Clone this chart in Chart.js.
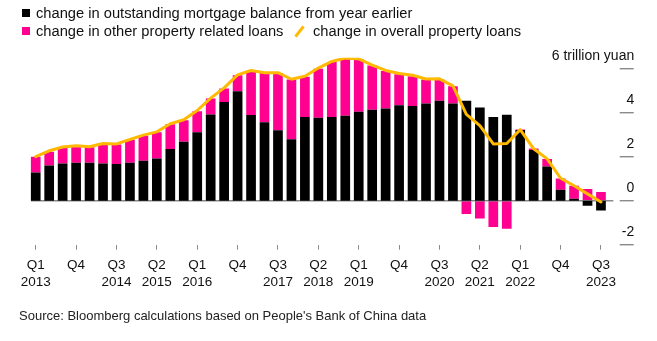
<!DOCTYPE html>
<html>
<head>
<meta charset="utf-8">
<script src="https://cdn.jsdelivr.net/npm/chart.js@4.4.1/dist/chart.umd.min.js"></script>
<style>
  html, body { margin: 0; padding: 0; background: #fff; }
  #wrap { position: relative; width: 657px; height: 341px; font-family: "Liberation Sans", Arial, sans-serif; color: #111; }
  #myChart { position: absolute; left: 0; top: 0; }
  .key { position: absolute; font-size: 14.7px; line-height: 16px; white-space: nowrap; }
  .sw { position: absolute; width: 8px; height: 8px; }
  .slash { position: absolute; width: 3px; height: 13px; background: #ffb900; transform: rotate(38deg); }
  #source { position: absolute; left: 19px; top: 308px; font-size: 13px; line-height: 16px; color: #222; white-space: nowrap; }
</style>
</head>
<body>
<div id="wrap">
  <canvas id="myChart" width="657" height="341"></canvas>
  <div class="sw" style="left:22px;top:9px;background:#000"></div>
  <div class="key" style="left:36px;top:5px">change in outstanding mortgage balance from year earlier</div>
  <div class="sw" style="left:22px;top:27px;background:#ff0090"></div>
  <div class="key" style="left:36px;top:23px">change in other property related loans</div>
  <div class="slash" style="left:298px;top:25px"></div>
  <div class="key" style="left:313px;top:23px">change in overall property loans</div>
  <div id="source">Source: Bloomberg calculations based on People's Bank of China data</div>
</div>
<script>
// quarters Q1 2013 .. Q3 2023
var quarters = [
  'Q1 2013','Q2 2013','Q3 2013','Q4 2013','Q1 2014','Q2 2014','Q3 2014','Q4 2014',
  'Q1 2015','Q2 2015','Q3 2015','Q4 2015','Q1 2016','Q2 2016','Q3 2016','Q4 2016',
  'Q1 2017','Q2 2017','Q3 2017','Q4 2017','Q1 2018','Q2 2018','Q3 2018','Q4 2018',
  'Q1 2019','Q2 2019','Q3 2019','Q4 2019','Q1 2020','Q2 2020','Q3 2020','Q4 2020',
  'Q1 2021','Q2 2021','Q3 2021','Q4 2021','Q1 2022','Q2 2022','Q3 2022','Q4 2022',
  'Q1 2023','Q2 2023','Q3 2023'
];

// x labels, one every three quarters
var tickLabels = [
  ['Q1','2013'], ['Q4'], ['Q3','2014'], ['Q2','2015'], ['Q1','2016'], ['Q4'],
  ['Q3','2017'], ['Q2','2018'], ['Q1','2019'], ['Q4'], ['Q3','2020'],
  ['Q2','2021'], ['Q1','2022'], ['Q4'], ['Q3','2023']
];

// trillion yuan, year-on-year change
var mortgage = [
  1.28, 1.60, 1.69, 1.72, 1.73, 1.69, 1.67, 1.73, 1.82, 1.92, 2.35, 2.68,
  3.11, 3.92, 4.49, 4.98, 3.89, 3.57, 3.20, 2.79, 3.81, 3.77, 3.80, 3.86,
  4.04, 4.13, 4.19, 4.34, 4.30, 4.42, 4.54, 4.42, 4.54, 4.24, 3.80, 3.91,
  3.21, 2.31, 1.55, 0.50, 0.09, -0.23, -0.45
];
var otherLoans = [
  0.72, 0.63, 0.72, 0.74, 0.70, 0.87, 0.89, 1.03, 1.14, 1.19, 1.13, 0.98,
  0.96, 0.73, 0.61, 0.72, 2.01, 2.24, 2.61, 2.72, 1.82, 2.23, 2.51, 2.59,
  2.39, 2.02, 1.71, 1.41, 1.36, 1.09, 0.97, 0.78, -0.60, -0.81, -1.19, -1.27,
  0.03, 0.06, 0.35, 0.51, 0.59, 0.53, 0.39
];
var overall = [
  2.00, 2.27, 2.44, 2.50, 2.45, 2.60, 2.58, 2.78, 2.98, 3.13, 3.50, 3.68,
  4.10, 4.66, 5.13, 5.72, 5.92, 5.82, 5.82, 5.52, 5.66, 6.03, 6.33, 6.48,
  6.45, 6.16, 5.92, 5.78, 5.70, 5.53, 5.54, 5.22, 3.92, 3.41, 2.58, 2.60,
  3.23, 2.36, 1.90, 1.02, 0.68, 0.31, -0.06
];

var yTicks = [-2, 0, 2, 4, 6];

// zero line and the detached value axis on the right
var rightAxis = {
  id: 'rightAxis',
  afterDatasetDraw: function(chart, args) {
    if (args.index !== 1) return;
    var a = chart.chartArea, y = chart.scales.y.getPixelForValue(0);
    var c = chart.ctx;
    c.save();
    c.strokeStyle = '#8a8a8a';
    c.lineWidth = 1.4;
    c.beginPath();
    c.moveTo(a.left + 2, y);
    c.lineTo(a.right + 5.6, y);
    c.stroke();
    c.restore();
  },
  afterDraw: function(chart) {
    var a = chart.chartArea, sy = chart.scales.y, c = chart.ctx;
    c.save();
    c.strokeStyle = '#8a8a8a';
    c.lineWidth = 1.4;
    c.fillStyle = '#111';
    c.font = '14px "Liberation Sans", Arial, sans-serif';
    c.textAlign = 'right';
    c.textBaseline = 'middle';
    yTicks.forEach(function(v) {
      var y = sy.getPixelForValue(v);
      c.beginPath();
      c.moveTo(a.right + 12, y);
      c.lineTo(a.right + 26, y);
      c.stroke();
      c.fillText(v === 6 ? '6 trillion yuan' : String(v), a.right + 26.5, y - 12.3);
    });
    c.restore();
  }
};

var ctx = document.getElementById('myChart').getContext('2d');
var myChart = new Chart(ctx, {
  type: 'bar',
  data: {
    labels: quarters,
    datasets: [{
      label: 'change in outstanding mortgage balance from year earlier',
      data: mortgage,
      backgroundColor: '#000000',
      stack: 'loans',
      order: 1
    }, {
      label: 'change in other property related loans',
      data: otherLoans,
      backgroundColor: '#ff0090',
      stack: 'loans',
      order: 1
    }, {
      type: 'line',
      label: 'change in overall property loans',
      data: overall,
      borderColor: '#ffb900',
      borderWidth: 3,
      borderJoinStyle: 'round',
      borderCapStyle: 'round',
      pointRadius: 0,
      tension: 0,
      stack: 'total',
      order: 0
    }]
  },
  options: {
    responsive: false,
    animation: false,
    events: [],
    barPercentage: 0.72,
    categoryPercentage: 1,
    layout: { padding: { left: 29, right: 49.3, top: 57.7, bottom: 36.3 } },
    plugins: {
      legend: { display: false },
      tooltip: { enabled: false }
    },
    scales: {
      x: {
        stacked: true,
        offset: true,
        border: { display: false },
        grid: { offset: false, drawOnChartArea: false, drawTicks: true, tickLength: 5, tickColor: '#8a8a8a', lineWidth: 1 },
        ticks: {
          autoSkip: false,
          maxRotation: 0,
          padding: 7,
          color: '#111',
          font: { family: '"Liberation Sans", Arial, sans-serif', size: 13.5, lineHeight: 1.24 },
          callback: function(val, i) {
            return i % 3 === 0 ? tickLabels[i / 3] : null;
          }
        },
        afterFit: function(scale) { scale.height = 60; }
      },
      y: {
        display: false,
        stacked: true,
        min: -2,
        max: 6.5
      }
    }
  },
  plugins: [rightAxis]
});
</script>
</body>
</html>
